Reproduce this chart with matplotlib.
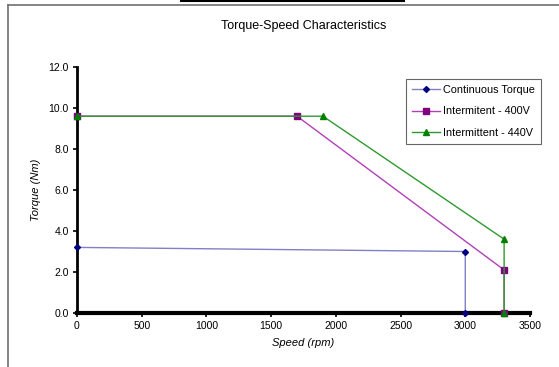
import matplotlib
matplotlib.use("Agg")
import matplotlib.pyplot as plt
from matplotlib.lines import Line2D

plt.rcParams['font.family'] = ['Liberation Sans', 'DejaVu Sans']

cont_speed = [0, 3000, 3000]
cont_torque = [3.2, 3.0, 0.0]
i400_speed = [0, 1700, 3300, 3300]
i400_torque = [9.6, 9.6, 2.1, 0.0]
i440_speed = [0, 1900, 3300, 3300]
i440_torque = [9.6, 9.6, 3.6, 0.0]
x_ticks = [0, 500, 1000, 1500, 2000, 2500, 3000, 3500]
y_ticks = [0, 2, 4, 6, 8, 10, 12]

W, H = 559, 367
fig = plt.figure(figsize=(W / 100, H / 100), dpi=100)
ax = fig.add_axes([77 / W, 1 - 313 / H, (530 - 77) / W, (313 - 67) / H])

ax.plot(cont_speed, cont_torque, color='#8080c8', lw=1.0, marker='D', ms=3,
        mfc='#000080', mec='#000080', label='Continuous Torque', clip_on=False, zorder=3)
ax.plot(i400_speed, i400_torque, color='#b040b8', lw=1.0, marker='s', ms=4,
        mfc='#800080', mec='#800080', label='Intermitent - 400V', clip_on=False, zorder=4)
ax.plot(i440_speed, i440_torque, color='#2e9a2e', lw=1.0, marker='^', ms=4.5,
        mfc='#008000', mec='#008000', label='Intermittent - 440V', clip_on=False, zorder=5)

ax.set_xlim(0, 3500)
ax.set_ylim(0, 12)
ax.set_xticks(x_ticks)
ax.set_yticks(y_ticks)
ax.set_yticklabels([f"{v:.1f}" for v in y_ticks])
ax.tick_params(axis='both', labelsize=7.5, length=3, width=1.2, direction='out', pad=3)
for s in ['top', 'right']:
    ax.spines[s].set_visible(False)
ax.spines['left'].set_linewidth(2)
ax.spines['bottom'].set_linewidth(3)
ax.set_xlabel('Speed (rpm)', fontsize=8, style='italic', labelpad=5)
ax.set_ylabel('Torque (Nm)', fontsize=8, style='italic', labelpad=5)
ax.set_title('Torque-Speed Characteristics', fontsize=9, pad=27)

leg = ax.legend(loc='upper left', bbox_to_anchor=(406 / W, 1 - 79 / H), bbox_transform=fig.transFigure,
                fontsize=7.8, frameon=True, fancybox=False, shadow=False, handlelength=2.6,
                labelspacing=1.05, borderpad=0.55, handletextpad=0.3, borderaxespad=0)
leg.get_frame().set_edgecolor('#404040')
leg.get_frame().set_linewidth(0.8)

# outer frame
fig.add_artist(Line2D([8 / W, 1], [1 - 5 / H, 1 - 5 / H], transform=fig.transFigure, color='#707070', lw=1.2))
fig.add_artist(Line2D([8 / W, 8 / W], [0, 1 - 5 / H], transform=fig.transFigure, color='#707070', lw=1.2))
fig.add_artist(Line2D([181 / W, 404 / W], [1 - 0.5 / H, 1 - 0.5 / H], transform=fig.transFigure, color='black', lw=1.5))

fig.savefig('out.png', dpi=100)
